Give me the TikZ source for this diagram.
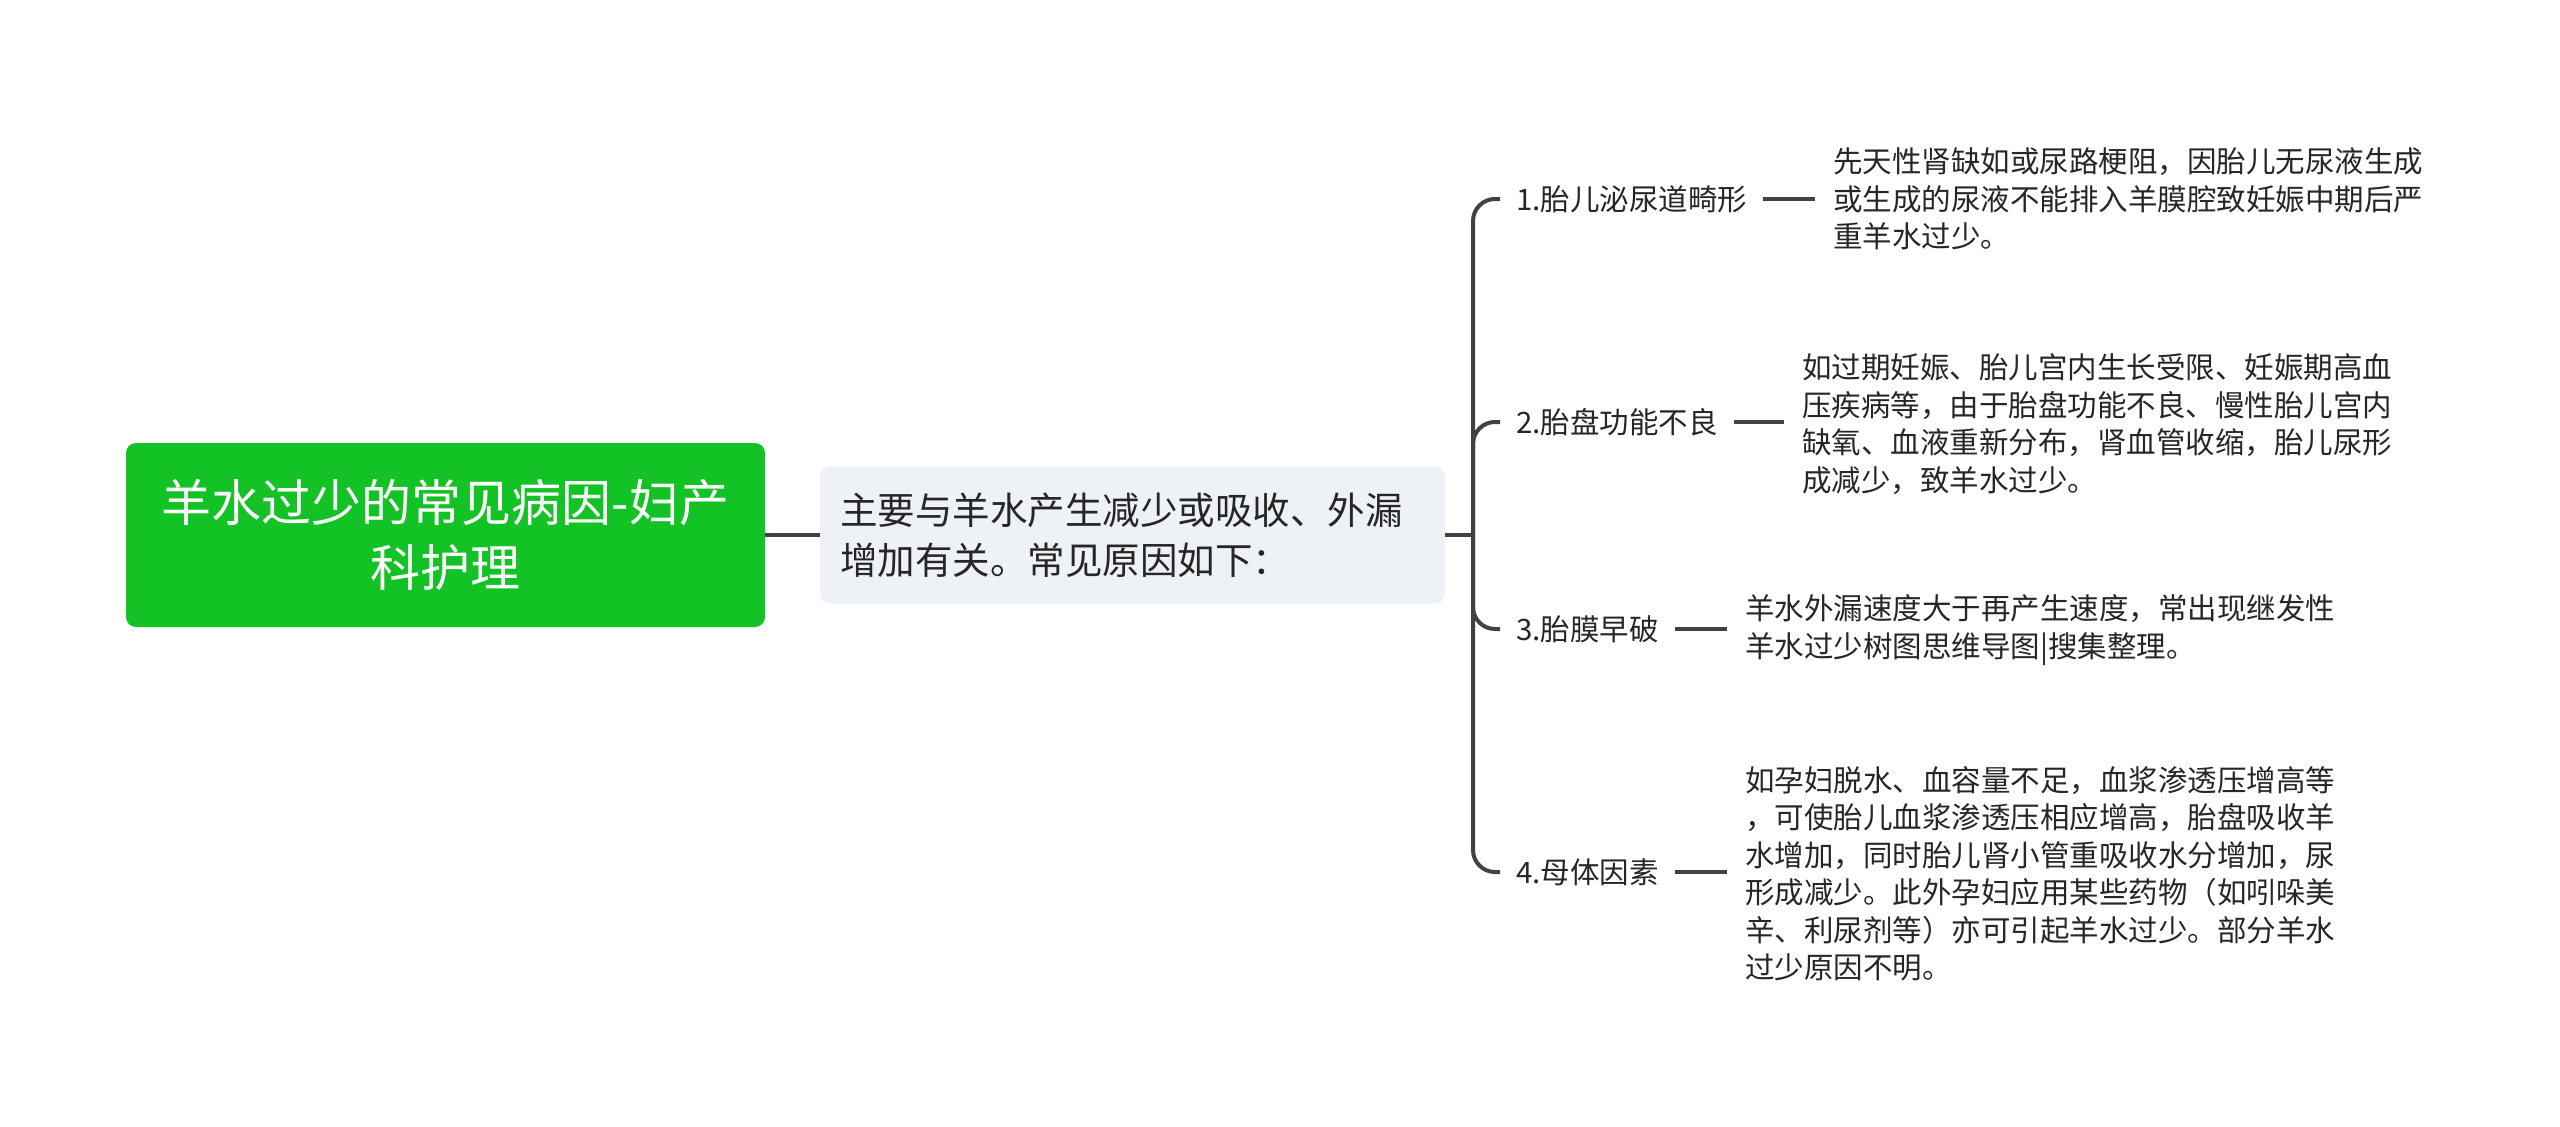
\documentclass[tikz,border=0pt]{standalone}
\usepackage{fontspec}
\setmainfont{Noto Sans CJK SC}
\usetikzlibrary{calc}
\definecolor{rootgreen}{HTML}{13C224}
\definecolor{midfill}{HTML}{EEF1F5}
\definecolor{linec}{HTML}{424242}
\definecolor{txt}{HTML}{262626}
\begin{document}
\begin{tikzpicture}[x=1pt,y=-1pt,
  rootbox/.style={fill=rootgreen, rounded corners=10pt, minimum width=639pt, minimum height=184pt, text=white, align=center, font=\fontsize{50}{65}\selectfont, inner sep=0pt},
  midbox/.style={fill=midfill, rounded corners=10pt, minimum height=137pt, text=txt, align=left, font=\fontsize{37.5}{50}\selectfont, inner xsep=20pt, inner ysep=0pt, text width=585pt},
  labelnode/.style={anchor=west, inner xsep=16pt, inner ysep=4pt, text=txt, font=\fontsize{29.5}{37.5}\selectfont},
  descnode/.style={anchor=west, inner xsep=18pt, inner ysep=4pt, align=left, text=txt, font=\fontsize{29.5}{37.5}\selectfont},
  conn/.style={draw=linec, line width=4pt}
]
\fill[white] (0,0) rectangle (2560,1127);
\useasboundingbox (0,0) rectangle (2560,1127);

\node[rootbox] (root) at (445.5,535) {羊水过少的常见病因-妇产\\科护理};
\node[midbox] (mid) at (1132.5,535) {主要与羊水产生减少或吸收、外漏\\增加有关。常见原因如下：};
\coordinate (trunk) at (1473,535);

\node[labelnode] (c1) at (1500,199) {1.胎儿泌尿道畸形};
\node[labelnode] (c2) at (1500,422) {2.胎盘功能不良};
\node[labelnode] (c3) at (1500,629) {3.胎膜早破};
\node[labelnode] (c4) at (1500,872) {4.母体因素};

\node[descnode] (d1) at (1815,199) {先天性肾缺如或尿路梗阻，因胎儿无尿液生成\\或生成的尿液不能排入羊膜腔致妊娠中期后严\\重羊水过少。};
\node[descnode] (d2) at (1784,424) {如过期妊娠、胎儿宫内生长受限、妊娠期高血\\压疾病等，由于胎盘功能不良、慢性胎儿宫内\\缺氧、血液重新分布，肾血管收缩，胎儿尿形\\成减少，致羊水过少。};
\node[descnode] (d3) at (1727,630) {羊水外漏速度大于再产生速度，常出现继发性\\羊水过少树图思维导图|搜集整理。};
\node[descnode] (d4) at (1727,874) {如孕妇脱水、血容量不足，血浆渗透压增高等\\，可使胎儿血浆渗透压相应增高，胎盘吸收羊\\水增加，同时胎儿肾小管重吸收水分增加，尿\\形成减少。此外孕妇应用某些药物（如吲哚美\\辛、利尿剂等）亦可引起羊水过少。部分羊水\\过少原因不明。};

\draw[conn] (root.east) -- (mid.west);
\draw[conn] (mid.east) -- (trunk);
\foreach \c in {c1,c2,c3,c4}
  \draw[conn, rounded corners=22pt] (trunk) |- (\c.west);
\foreach \c/\d in {c1/d1,c2/d2,c3/d3,c4/d4}
  \draw[conn] (\c.east) -- (\c.east -| \d.west);
\end{tikzpicture}
\end{document}
